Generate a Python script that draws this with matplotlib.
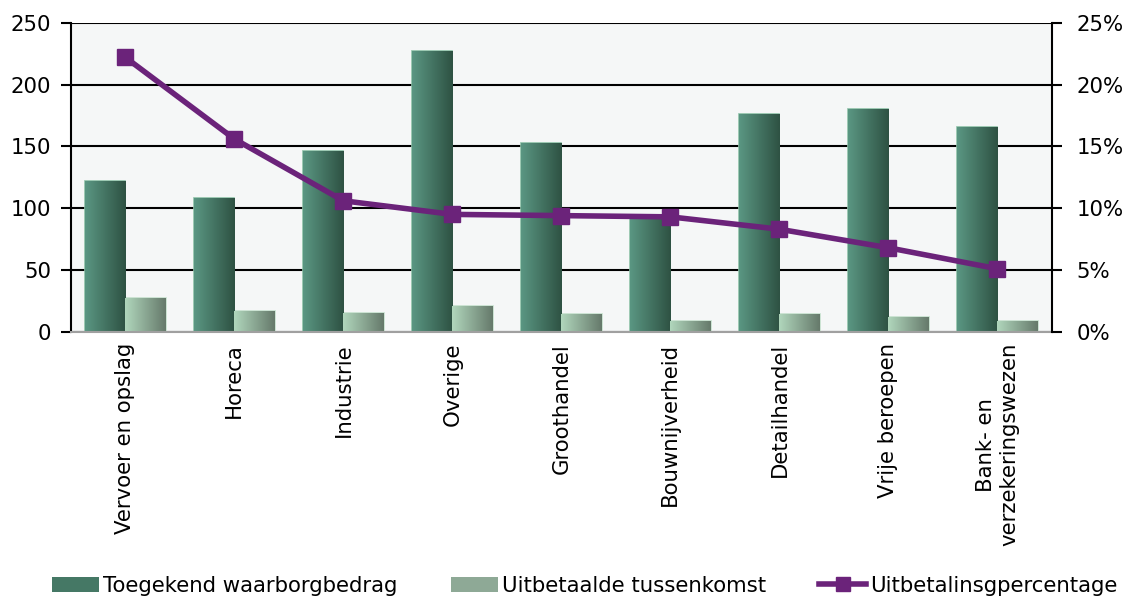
import numpy as np
import matplotlib.pyplot as plt
from matplotlib.colors import LinearSegmentedColormap
from matplotlib.patches import Patch
from matplotlib.lines import Line2D
from matplotlib.ticker import FuncFormatter

categories = ["Vervoer en opslag", "Horeca", "Industrie", "Overige", "Groothandel",
              "Bouwnijverheid", "Detailhandel", "Vrije beroepen", "Bank- en\nverzekeringswezen"]
toegekend = [122, 108, 146, 227, 153, 91, 176, 180, 166]
uitbetaald = [27, 17, 15, 21, 14, 9, 14, 12, 9]
percentage = [22.2, 15.6, 10.6, 9.5, 9.4, 9.3, 8.3, 6.8, 5.1]

plt.rcParams['font.family'] = ['Verdana', 'DejaVu Sans']
plt.rcParams['font.size'] = 15.3

dark_cmap = LinearSegmentedColormap.from_list("dark", ["#5a9682", "#2e5243"])
light_cmap = LinearSegmentedColormap.from_list("light", ["#b0d6bc", "#667a6b"])

fig = plt.figure(figsize=(11.25, 6), dpi=100)
ax = fig.add_axes([0.063, 0.447, 0.872, 0.515])
ax.set_facecolor("#f5f7f7")

x = np.arange(len(categories))
w = 0.37

def gradient_bars(bars, cmap, edge):
    grad = np.linspace(0, 1, 64).reshape(1, -1)
    for b in bars:
        bx, by = b.get_x(), b.get_y()
        bw, bh = b.get_width(), b.get_height()
        im = ax.imshow(grad, cmap=cmap, aspect="auto", extent=[bx, bx + bw, by, by + bh],
                       zorder=2, interpolation="bicubic")
        im.set_clip_path(b)
        b.set_facecolor("none")
        b.set_edgecolor(edge)
        b.set_linewidth(1.2)

b1 = ax.bar(x - w / 2, toegekend, w, zorder=2)
b2 = ax.bar(x + w / 2, uitbetaald, w, zorder=2)
gradient_bars(b1, dark_cmap, "#8cc0a6")
gradient_bars(b2, light_cmap, "#c4e0cc")

ax.set_xlim(-0.5, len(categories) - 0.5)
ax.set_ylim(0, 250)
ax.set_yticks([0, 50, 100, 150, 200, 250])
ax.yaxis.grid(True, color="black", linewidth=1.5, zorder=1)
ax.set_axisbelow(True)
ax.set_xticks(x)
ax.set_xticklabels(categories, rotation=90, va="top", ha="center")
ax.tick_params(axis="x", length=0, pad=8)
ax.tick_params(axis="y", length=7, width=1.5, direction="out", pad=7)
ax.spines["top"].set_visible(False)
ax.spines["bottom"].set_color("#a0a0a0")
ax.spines["bottom"].set_linewidth(1.5)
ax.spines["left"].set_linewidth(1.5)
ax.spines["right"].set_visible(False)

ax2 = ax.twinx()
ax2.plot(x, percentage, color="#6b237a", linewidth=4, marker="s", markersize=12, zorder=5)
ax2.set_ylim(0, 25)
ax2.set_yticks([0, 5, 10, 15, 20, 25])
ax2.yaxis.set_major_formatter(FuncFormatter(lambda v, p: f"{v:.0f}%"))
ax2.tick_params(axis="y", length=7, width=1.5, direction="out", pad=11)
ax2.spines["top"].set_visible(False)
ax2.spines["left"].set_visible(False)
ax2.spines["bottom"].set_visible(False)
ax2.spines["right"].set_linewidth(1.5)

handles = [Patch(facecolor="#457865", edgecolor="none"),
           Patch(facecolor="#8ea996", edgecolor="none"),
           Line2D([0], [0], color="#6b237a", linewidth=4, marker="s", markersize=10)]
labels = ["Toegekend waarborgbedrag", "Uitbetaalde tussenkomst", "Uitbetalinsgpercentage"]
fig.legend(handles, labels, loc="lower center", bbox_to_anchor=(0.52, -0.025), ncol=3,
           frameon=False, handlelength=2.2, handletextpad=0.2, columnspacing=2.5)

fig.savefig("out.png", dpi=100)
